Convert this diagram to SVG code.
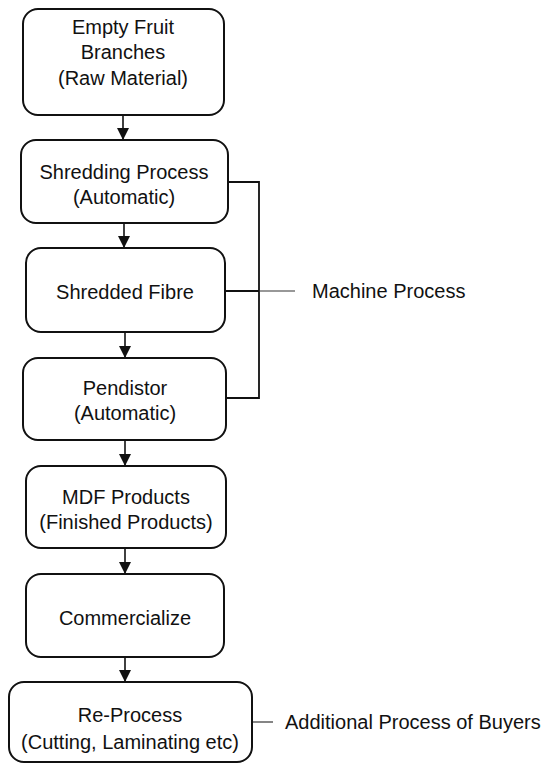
<svg xmlns="http://www.w3.org/2000/svg" width="552" height="765" viewBox="0 0 552 765">
  <defs>
    <marker id="arrow" viewBox="0 0 10 10" refX="10" refY="5" markerWidth="12" markerHeight="12" markerUnits="userSpaceOnUse" orient="auto">
      <path d="M0,0 L10,5 L0,10 Z" fill="#111"/>
    </marker>
  </defs>
  <style>
    .box { fill: #fff; stroke: #111; stroke-width: 2; }
    .lbl { font-family: "Liberation Sans", Arial, sans-serif; font-size: 20px; fill: #111; text-anchor: middle; }
    .side { font-family: "Liberation Sans", Arial, sans-serif; font-size: 20px; fill: #111; }
    .flow { stroke: #111; stroke-width: 1.6; fill: none; marker-end: url(#arrow); }
    .brace { stroke: #111; stroke-width: 1.8; fill: none; }
    .tick { stroke: #333; stroke-width: 1.2; fill: none; }
  </style>
  <rect width="552" height="765" fill="#fff"/>

  <g id="connectors">
    <line class="flow" x1="123" y1="115" x2="123" y2="140"/>
    <line class="flow" x1="124" y1="223" x2="124" y2="248"/>
    <line class="flow" x1="125" y1="332" x2="125" y2="358"/>
    <line class="flow" x1="125" y1="440" x2="125" y2="466"/>
    <line class="flow" x1="125" y1="548" x2="125" y2="574"/>
    <line class="flow" x1="125" y1="657" x2="125" y2="682"/>
    <!-- bracket grouping the machine steps -->
    <polyline class="brace" points="228,182 259,182 259,398 226,398"/>
    <line class="brace" x1="225" y1="291" x2="259" y2="291"/>
    <line class="tick" x1="259" y1="291" x2="295" y2="291"/>
    <line class="tick" x1="252" y1="722" x2="273" y2="722"/>
  </g>

  <g id="raw-material">
    <rect class="box" x="23" y="9" width="201" height="106" rx="15"/>
    <text class="lbl" x="123" y="34">Empty Fruit</text>
    <text class="lbl" x="123" y="59">Branches</text>
    <text class="lbl" x="123" y="85">(Raw Material)</text>
  </g>

  <g id="shredding">
    <rect class="box" x="21" y="140" width="207" height="83" rx="15"/>
    <text class="lbl" x="124" y="179">Shredding Process</text>
    <text class="lbl" x="124" y="204">(Automatic)</text>
  </g>

  <g id="fibre">
    <rect class="box" x="26" y="248" width="199" height="84" rx="15"/>
    <text class="lbl" x="125" y="299">Shredded Fibre</text>
  </g>

  <g id="pendistor">
    <rect class="box" x="23" y="358" width="203" height="82" rx="15"/>
    <text class="lbl" x="125" y="395">Pendistor</text>
    <text class="lbl" x="125" y="420">(Automatic)</text>
  </g>

  <g id="mdf">
    <rect class="box" x="26" y="466" width="200" height="82" rx="15"/>
    <text class="lbl" x="126" y="504">MDF Products</text>
    <text class="lbl" x="126" y="529">(Finished Products)</text>
  </g>

  <g id="commercialize">
    <rect class="box" x="26" y="574" width="198" height="83" rx="15"/>
    <text class="lbl" x="125" y="625">Commercialize</text>
  </g>

  <g id="reprocess">
    <rect class="box" x="9" y="682" width="243" height="80" rx="15"/>
    <text class="lbl" x="130" y="722">Re-Process</text>
    <text class="lbl" x="130" y="749">(Cutting, Laminating etc)</text>
  </g>

  <g id="machine-label">
    <text class="side" x="312" y="298">Machine Process</text>
  </g>

  <g id="buyers-label">
    <text class="side" x="285" y="729">Additional Process of Buyers</text>
  </g>
</svg>
